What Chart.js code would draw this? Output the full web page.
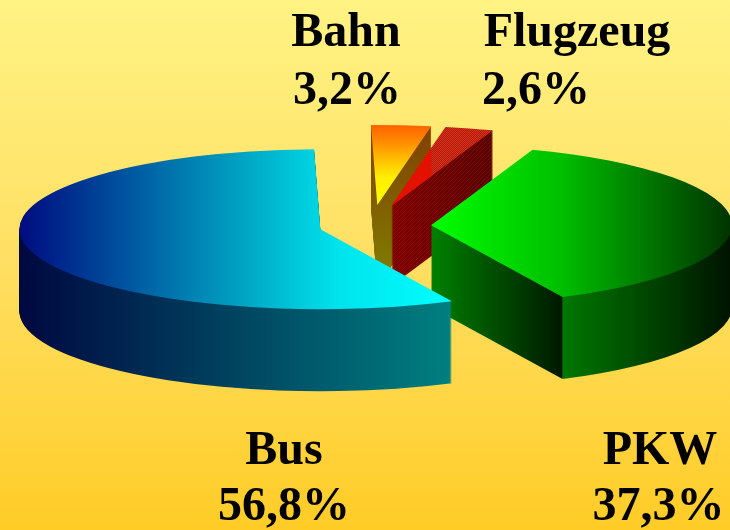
<!DOCTYPE html>
<html><head><meta charset="utf-8">
<style>html,body{margin:0;padding:0;background:#ffe060}canvas{display:block}</style>
<script src="https://cdn.jsdelivr.net/npm/chart.js@4/dist/chart.umd.min.js"></script>
</head><body><canvas id="c" width="730" height="530"></canvas>
<script>
const categories = ["PKW", "Bus", "Bahn", "Flugzeug"];
const shares = [37.3, 56.8, 3.2, 2.6];
const baseColors = ["#00c000", "#00a0c0", "#ff9000", "#c01000"];
const explode = [0.2, 0.173, 0.263, 0.263];

const CX = 371, CY = 226, RX = 301, RY = 80, DEPTH = 82;
const fmt = v => v.toFixed(1).replace('.', ',') + '%';

function geo(arc, i) {
  const R = arc.outerRadius;
  const h = (arc.startAngle + arc.endAngle) / 2;
  const off = explode[arc.$i] * R;
  return { R, sx: RX / R, sy: RY / R, ox: Math.cos(h) * off, oy: Math.sin(h) * off };
}
function cornerX(arc, a) { const g = geo(arc); return CX + g.sx * (g.ox + g.R * Math.cos(a)); }
function hGrad(ctx, arc, x0, x1, stops) {
  const g = geo(arc);
  const f = x => arc.x + (x - CX) / g.sx - g.ox;
  const gr = ctx.createLinearGradient(f(x0), arc.y, f(x1), arc.y);
  stops.forEach(s => gr.addColorStop(s[0], s[1]));
  return gr;
}
function vGrad(ctx, arc, y0, y1, dy, stops) {
  const g = geo(arc);
  const f = y => arc.y + (y - CY - dy) / g.sy - g.oy;
  const gr = ctx.createLinearGradient(arc.x, f(y0), arc.x, f(y1));
  stops.forEach(s => gr.addColorStop(s[0], s[1]));
  return gr;
}
function face(ctx, arc, style, dy) {
  const g = geo(arc);
  const saved = arc.options;
  ctx.save();
  ctx.translate(CX, CY + dy);
  ctx.scale(g.sx, g.sy);
  ctx.translate(-arc.x + g.ox, -arc.y + g.oy);
  if (style instanceof CanvasPattern) style.setTransform(ctx.getTransform().inverse());
  arc.options = Object.assign({}, saved, { backgroundColor: style });
  arc.draw(ctx);
  arc.options = saved;
  ctx.restore();
}
function clipped(ctx, x0, x1, fn) {
  ctx.save();
  ctx.beginPath();
  ctx.rect(x0, 0, x1 - x0, 530);
  ctx.clip();
  fn();
  ctx.restore();
}
function makePattern(ctx, size, cells) {
  const p = document.createElement('canvas');
  p.width = p.height = size;
  const q = p.getContext('2d');
  cells.forEach(c => { q.fillStyle = c[2]; q.fillRect(c[0], c[1], 1, 1); });
  return ctx.createPattern(p, 'repeat');
}

const pie3d = {
  id: 'pie3d',
  beforeDraw(chart) {
    const ctx = chart.ctx;
    const g = ctx.createLinearGradient(0, 0, 0, 530);
    g.addColorStop(0, '#fff384');
    g.addColorStop(0.5, '#ffdf62');
    g.addColorStop(1, '#ffcc26');
    ctx.fillStyle = g;
    ctx.fillRect(0, 0, 730, 530);
  },
  beforeDatasetsDraw(chart) {
    const ctx = chart.ctx;
    const arcs = chart.getDatasetMeta(0).data;
    arcs.forEach((a, i) => { a.$i = i; });
    const [pkw, bus, bahn, flug] = arcs;

    // Bahn
    for (let k = DEPTH; k >= 1; k--) {
      face(ctx, bahn, vGrad(ctx, bahn, 126, 264, k, [[0, '#804000'], [1, '#807800']]), k);
    }
    face(ctx, bahn, vGrad(ctx, bahn, 126, 205, 0, [[0, '#ff6400'], [0.22, '#ff9000'], [0.43, '#ffc000'], [0.65, '#ffee00'], [1, '#ffff00']]), 0);

    // Flugzeug
    const stripe = 'rgba(170,45,20,.3)';
    const wallStripes = makePattern(ctx, 4, [[0, 3, stripe], [1, 2, stripe], [2, 1, stripe], [3, 0, stripe]]);
    for (let k = DEPTH - 2; k >= 1; k--) {
      face(ctx, flug, hGrad(ctx, flug, 389, 492, [[0, '#800000'], [1, '#580000']]), k);
      face(ctx, flug, wallStripes, k);
    }
    const topCheck = makePattern(ctx, 2, [[0, 0, '#dc3018'], [1, 1, '#dc3018'], [1, 0, '#ac1c0c'], [0, 1, '#ac1c0c']]);
    face(ctx, flug, topCheck, 0);
    clipped(ctx, 0, cornerX(bahn, bahn.endAngle), () => face(ctx, flug, '#e41000', 0));

    // PKW
    const pkwCorner = cornerX(pkw, pkw.endAngle);
    const pkwApex = CX + geo(pkw).sx * geo(pkw).ox;
    const cutWall = hGrad(ctx, pkw, pkwApex, pkwCorner, [[0, '#008000'], [1, '#001800']]);
    const rimWall = hGrad(ctx, pkw, pkwCorner, 729, [[0, '#007800'], [1, '#001400']]);
    for (let k = DEPTH; k >= 1; k--) {
      clipped(ctx, 0, pkwCorner, () => face(ctx, pkw, cutWall, k));
      clipped(ctx, pkwCorner, 730, () => face(ctx, pkw, rimWall, k));
    }
    face(ctx, pkw, hGrad(ctx, pkw, pkwApex, 729, [[0, '#00ff00'], [0.45, '#00bc00'], [1, '#003400']]), 0);

    // Bus
    const busWall = hGrad(ctx, bus, 20, 452, [[0, '#000840'], [1, '#008080']]);
    for (let k = DEPTH; k >= 1; k--) face(ctx, bus, busWall, k);
    face(ctx, bus, hGrad(ctx, bus, 20, 452, [[0, '#000c80'], [0.5, '#00a0c0'], [0.74, '#00e4ec'], [1, '#00ffff']]), 0);
    return false;
  },
  afterDraw(chart) {
    const ctx = chart.ctx;
    ctx.save();
    ctx.fillStyle = '#000';
    ctx.font = 'bold 48px "Liberation Serif"';
    ctx.textAlign = 'center';
    ctx.textBaseline = 'alphabetic';
    const spots = [[660, 464, 658.5, 520], [284, 464, 284, 520], [346, 46, 347, 104], [577, 46, 536, 104]];
    categories.forEach((name, i) => {
      const s = spots[i];
      ctx.fillText(name, s[0], s[1]);
      ctx.fillText(fmt(shares[i]), s[2], s[3]);
    });
    ctx.restore();
  }
};

new Chart(document.getElementById('c'), {
  type: 'pie',
  data: { labels: categories, datasets: [{ data: shares, backgroundColor: baseColors, borderWidth: 0 }] },
  options: {
    responsive: false, animation: false, radius: 200, rotation: 19.7,
    layout: { padding: 0 },
    events: [],
    plugins: { legend: { display: false }, tooltip: { enabled: false } }
  },
  plugins: [pie3d]
});
</script></body></html>
